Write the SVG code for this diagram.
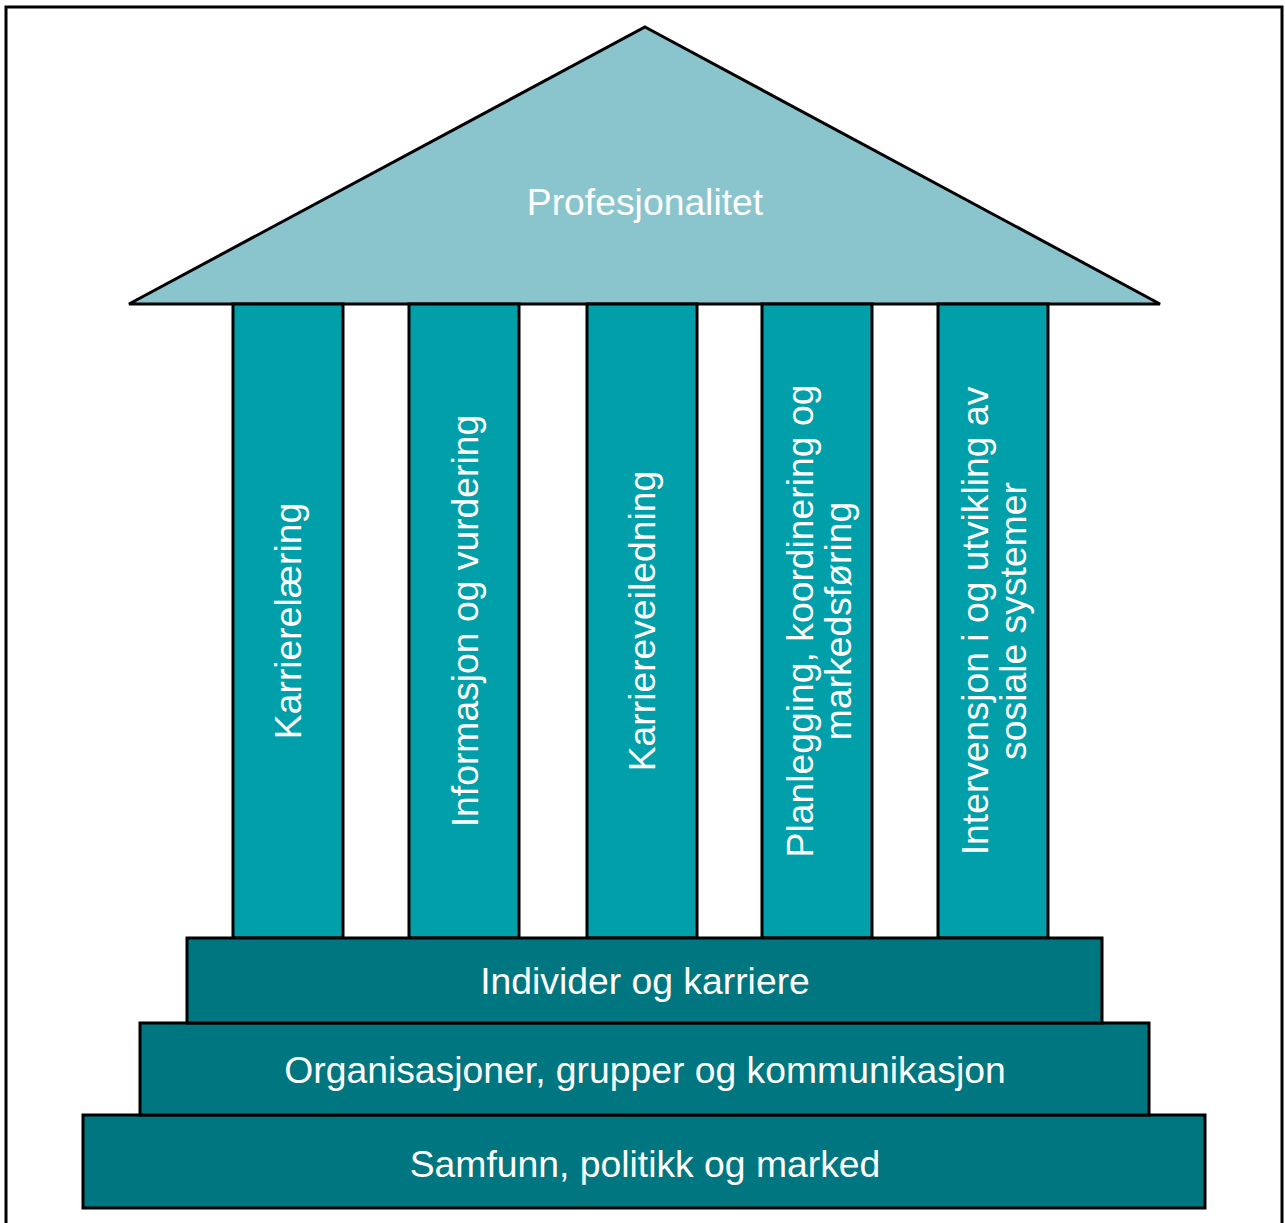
<svg xmlns="http://www.w3.org/2000/svg" width="1285" height="1223" viewBox="0 0 1285 1223">
<style>
.t{font-family:"Liberation Sans",Arial,sans-serif;font-size:37.3px;fill:#fff;text-anchor:middle}
.roof{fill:#8AC5CE;stroke:#000;stroke-width:3;stroke-linejoin:miter}
.pil{fill:#009FAA;stroke:#000;stroke-width:3}
.step{fill:#007680;stroke:#000;stroke-width:3}
</style>
<rect x="6" y="7" width="1276" height="1230" fill="#fff" stroke="#000" stroke-width="3"/>
<g id="roof">
<polygon class="roof" points="645,27 1160,304 129,304"/>
<text class="t" x="645" y="215">Profesjonalitet</text>
</g>
<g id="pillar1">
<rect class="pil" x="233" y="304" width="110" height="634"/>
<text class="t" transform="translate(288,621) rotate(-90)" dy="0.35em">Karrierelæring</text>
</g>
<g id="pillar2">
<rect class="pil" x="409" y="304" width="110" height="634"/>
<text class="t" transform="translate(465,621) rotate(-90)" dy="0.35em">Informasjon og vurdering</text>
</g>
<g id="pillar3">
<rect class="pil" x="587" y="304" width="110" height="634"/>
<text class="t" transform="translate(642,621) rotate(-90)" dy="0.35em">Karriereveiledning</text>
</g>
<g id="pillar4">
<rect class="pil" x="762" y="304" width="110" height="634"/>
<text class="t" transform="translate(819,621) rotate(-90)"><tspan x="0" dy="-0.16em">Planlegging, koordinering og</tspan><tspan x="0" dy="1.02em">markedsføring</tspan></text>
</g>
<g id="pillar5">
<rect class="pil" x="938" y="304" width="110" height="634"/>
<text class="t" transform="translate(994,621) rotate(-90)"><tspan x="0" dy="-0.16em">Intervensjon i og utvikling av</tspan><tspan x="0" dy="1.02em">sosiale systemer</tspan></text>
</g>
<g id="step3">
<rect class="step" x="83" y="1115" width="1122" height="93"/>
<text class="t" x="645" y="1177">Samfunn, politikk og marked</text>
</g>
<g id="step2">
<rect class="step" x="140" y="1023" width="1009" height="92"/>
<text class="t" x="645" y="1083">Organisasjoner, grupper og kommunikasjon</text>
</g>
<g id="step1">
<rect class="step" x="187" y="938" width="915" height="85"/>
<text class="t" x="645" y="994">Individer og karriere</text>
</g>
<g id="connectors"/>
</svg>
